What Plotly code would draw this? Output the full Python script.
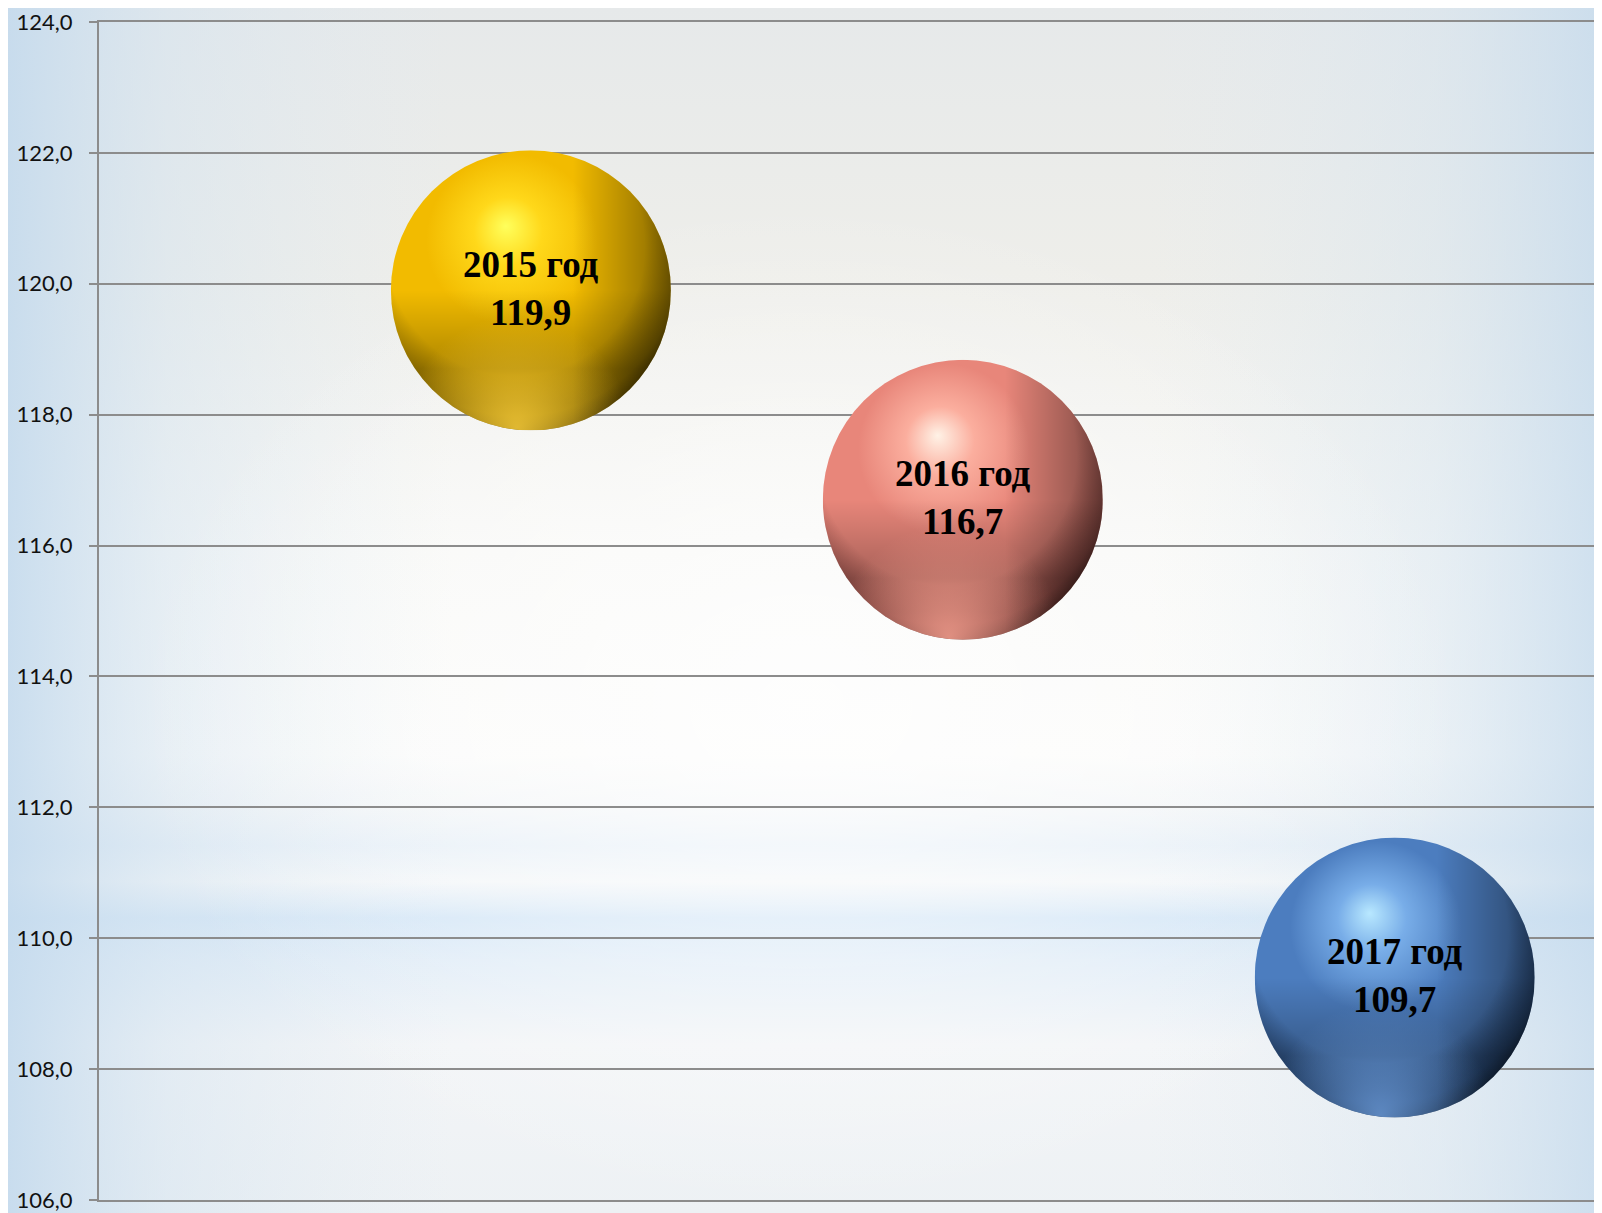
import base64
import plotly.graph_objects as go

# ---------------- data ----------------
years = ["2015 год", "2016 год", "2017 год"]
x_pos = [1, 2, 3]
y_pos = [119.9, 116.7, 109.4]          # plotted centres
value_labels = ["119,9", "116,7", "109,7"]
tick_vals = [106, 108, 110, 112, 114, 116, 118, 120, 122, 124]
tick_text = ["106,0", "108,0", "110,0", "112,0", "114,0", "116,0", "118,0", "120,0", "122,0", "124,0"]

# sphere palettes: highlight, light, main, mid-dark, dark, reflection
palettes = [
    ["#ffff5c", "#ffd81a", "#f2bb00", "#a98300", "#342700", "#f2c83a"],
    ["#fff2e6", "#fbae9e", "#e8867a", "#a0554e", "#2a1210", "#f29e8e"],
    ["#b8e8ff", "#78ade8", "#4c7dbf", "#2a4c7b", "#06101b", "#6896d2"],
]

# ---------------- geometry ----------------
OFF = 8                      # browser body margin
W, H = 1602 - 2 * OFF, 1213 - OFF
ML, MT = 99 - OFF, 22 - OFF
PLOT_BOTTOM = 1200 - OFF
MB = H - PLOT_BOTTOM
MR = 0
PW, PH = W - ML - MR, H - MT - MB
PXU = 431.9
X0 = 0.0
X1 = X0 + PW / PXU
Y0, Y1 = 106.0, 124.0
PYU = PH / (Y1 - Y0)
SIZE = 280


def sphere_svg(p):
    hi, li, mn, md, dk, rf = p
    s = f'''<svg xmlns="http://www.w3.org/2000/svg" width="400" height="400" viewBox="0 0 100 100">
<defs>
<radialGradient id="g" cx="0.46" cy="0.38" r="0.68" fx="0.41" fy="0.27">
<stop offset="0" stop-color="{hi}"/>
<stop offset="0.18" stop-color="{li}"/>
<stop offset="0.45" stop-color="{mn}"/>
<stop offset="0.68" stop-color="{mn}"/>
<stop offset="0.86" stop-color="{md}"/>
<stop offset="1" stop-color="{dk}"/>
</radialGradient>
<linearGradient id="v" x1="0" y1="0" x2="0" y2="1">
<stop offset="0.5" stop-color="#000" stop-opacity="0"/>
<stop offset="0.78" stop-color="#000" stop-opacity="0.28"/>
<stop offset="0.9" stop-color="#000" stop-opacity="0.18"/>
<stop offset="1" stop-color="#000" stop-opacity="0"/>
</linearGradient>
<radialGradient id="r" cx="0.45" cy="0.99" r="0.4">
<stop offset="0" stop-color="{rf}" stop-opacity="0.85"/>
<stop offset="0.5" stop-color="{rf}" stop-opacity="0.4"/>
<stop offset="1" stop-color="{rf}" stop-opacity="0"/>
</radialGradient>
<linearGradient id="s" x1="0" y1="0" x2="1" y2="0">
<stop offset="0.65" stop-color="#000" stop-opacity="0"/>
<stop offset="1" stop-color="#000" stop-opacity="0.45"/>
</linearGradient>
</defs>
<circle cx="50" cy="50" r="50" fill="url(#g)"/>
<circle cx="50" cy="50" r="50" fill="url(#v)"/>
<circle cx="50" cy="50" r="50" fill="url(#r)"/>
<circle cx="50" cy="50" r="50" fill="url(#s)"/>
</svg>'''
    return "data:image/svg+xml;base64," + base64.b64encode(s.encode()).decode()


fig = go.Figure()
fig.add_trace(go.Scatter(
    x=x_pos, y=y_pos, mode="markers",
    marker=dict(size=SIZE - 6, color=[p[2] for p in palettes], line=dict(width=0)),
    hoverinfo="skip", showlegend=False,
))

images = []
# ---------------- background ----------------
bg = f'''<svg xmlns="http://www.w3.org/2000/svg" width="1602" height="1213" viewBox="0 0 1602 1213" preserveAspectRatio="none">
<defs>
<linearGradient id="v" x1="0" y1="0" x2="0" y2="1">
<stop offset="0" stop-color="#e6e9ea"/>
<stop offset="0.22" stop-color="#eeeeea"/>
<stop offset="0.45" stop-color="#f8f8f6"/>
<stop offset="0.62" stop-color="#fbfbfa"/>
<stop offset="0.665" stop-color="#f2f5f7"/>
<stop offset="0.695" stop-color="#e6eff7"/>
<stop offset="0.725" stop-color="#f3f6f8"/>
<stop offset="0.755" stop-color="#d2e5f6"/>
<stop offset="0.79" stop-color="#e0ecf7"/>
<stop offset="0.86" stop-color="#f3f5f7"/>
<stop offset="1" stop-color="#edf1f4"/>
</linearGradient>
<linearGradient id="h" x1="0" y1="0" x2="1" y2="0">
<stop offset="0" stop-color="#c4daed" stop-opacity="0.9"/>
<stop offset="0.1" stop-color="#d3e3f0" stop-opacity="0.5"/>
<stop offset="0.28" stop-color="#e0eaf2" stop-opacity="0"/>
<stop offset="0.72" stop-color="#e0eaf2" stop-opacity="0"/>
<stop offset="0.9" stop-color="#d3e3f0" stop-opacity="0.45"/>
<stop offset="1" stop-color="#c6dbed" stop-opacity="0.8"/>
</linearGradient>
<radialGradient id="c" cx="0.5" cy="0.58" r="0.42">
<stop offset="0" stop-color="#ffffff" stop-opacity="0.75"/>
<stop offset="1" stop-color="#ffffff" stop-opacity="0"/>
</radialGradient>
</defs>
<rect x="0" y="0" width="1602" height="1213" fill="url(#v)"/>
<rect x="0" y="0" width="1602" height="1213" fill="url(#h)"/>
<rect x="0" y="0" width="1602" height="1213" fill="url(#c)"/>
</svg>'''
bg_src = "data:image/svg+xml;base64," + base64.b64encode(bg.encode()).decode()
images.append(dict(source=bg_src, xref="paper", yref="paper",
                   x=-ML / PW, y=1 + MT / PH, sizex=W / PW, sizey=H / PH,
                   xanchor="left", yanchor="top", sizing="stretch", layer="below"))

for xv, yv, p in zip(x_pos, y_pos, palettes):
    images.append(dict(source=sphere_svg(p), xref="x", yref="y", x=xv, y=yv,
                       sizex=SIZE / PXU, sizey=SIZE / PYU, xanchor="center", yanchor="middle",
                       sizing="stretch", layer="above"))

annotations = []
for xv, yv, yr, v in zip(x_pos, y_pos, years, value_labels):
    annotations.append(dict(x=xv, y=yv, xref="x", yref="y", showarrow=False,
                            text=f"<b>{yr}</b><br><b>{v}</b>",
                            font=dict(family="Liberation Serif", size=37, color="#000000"),
                            xanchor="center", yanchor="middle", yshift=2))

fig.update_layout(
    width=W, height=H,
    margin=dict(l=ML, r=MR, t=MT, b=MB, pad=0),
    paper_bgcolor="#eaf0f4",
    plot_bgcolor="rgba(0,0,0,0)",
    showlegend=False,
    images=images,
    annotations=annotations,
    xaxis=dict(range=[X0, X1], showgrid=False, zeroline=False, showticklabels=False,
               ticks="", showline=True, mirror=True, linecolor="#8c8c8c", linewidth=2,
               fixedrange=True),
    yaxis=dict(range=[Y0, Y1], tickvals=tick_vals, ticktext=tick_text,
               showgrid=True, gridcolor="#8c8c8c", gridwidth=2, zeroline=False,
               showline=True, linecolor="#8c8c8c", linewidth=2,
               ticks="outside", ticklen=8, tickwidth=2, tickcolor="#8c8c8c",
               ticklabelstandoff=12, ticklabeloverflow="allow",
               tickfont=dict(family="Lato", size=22, color="#111111"), fixedrange=True),
)

fig.write_html("out.html")
